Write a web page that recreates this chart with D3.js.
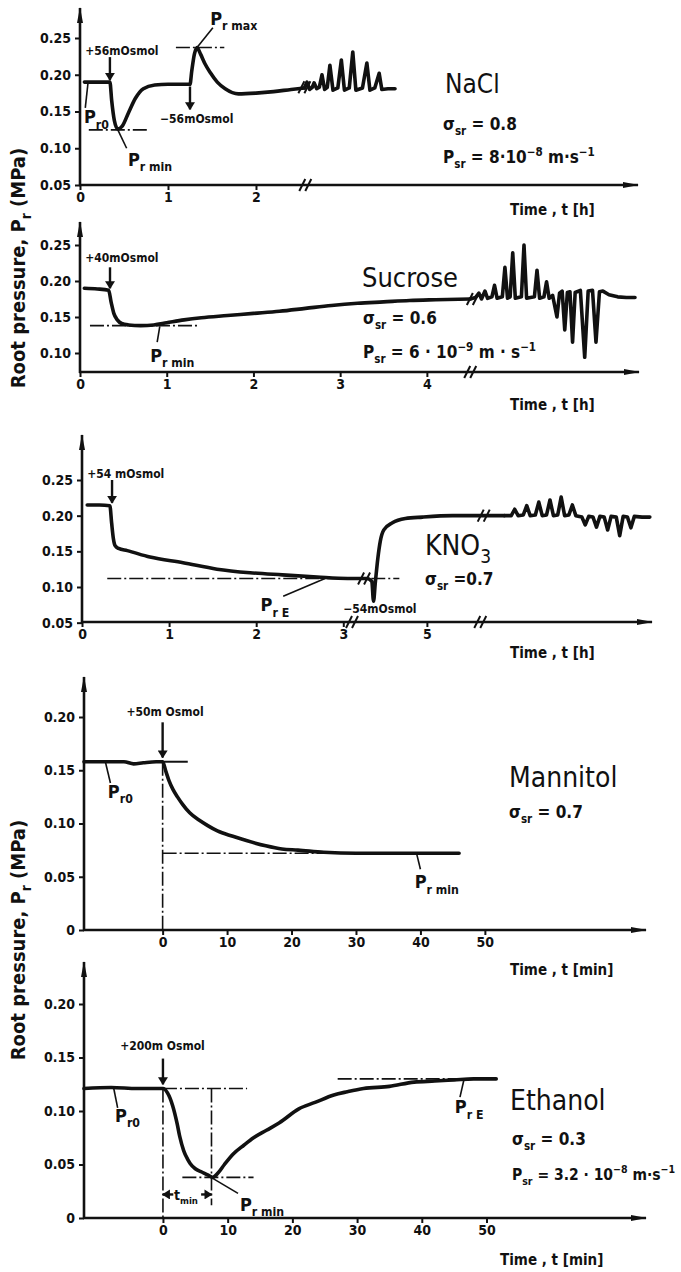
<!DOCTYPE html>
<html>
<head>
<meta charset="utf-8">
<script src="https://cdn.jsdelivr.net/npm/d3@7"></script>
<style>
body{margin:0;background:#fff}
svg text{font-family:"DejaVu Sans Condensed","DejaVu Sans",sans-serif;font-stretch:condensed;fill:#111}
.tick text{font-size:14px;font-weight:bold}
.tick line{stroke:#111;stroke-width:2}
.ax{stroke:#111;stroke-width:2.6;fill:none}
.curve{stroke:#111;stroke-width:3.6;fill:none;stroke-linejoin:round;stroke-linecap:round}
.note{stroke:#111;stroke-width:1.6;fill:none}
.dash{stroke:#111;stroke-width:1.6;fill:none;stroke-dasharray:14,3,2,3}
</style>
</head>
<body>
<svg id="chart" width="681" height="1272"></svg>
<script>
// ---- data ----
// NaCl (time in h)
var naclYTicks = [0.05, 0.10, 0.15, 0.20, 0.25];
var naclXTicks = [0, 1, 2];
var naclT = [0.05,0.2,0.34,0.36,0.39,0.43,0.48,0.55,0.63,0.72,0.85,1.0,1.15,1.25,1.27,1.30,1.33,1.37,1.42,1.48,1.56,1.65,1.8,2.0,2.2,2.4,2.55,
  2.58,2.61,2.64,2.66,2.69,2.72,2.75,2.78,2.81,2.84,2.875,2.93,2.97,3.005,3.06,3.10,3.135,3.21,3.26,3.295,3.35,3.40,3.43,3.5,3.58];
var naclP = [0.19,0.19,0.19,0.165,0.138,0.126,0.13,0.148,0.168,0.181,0.186,0.187,0.187,0.187,0.205,0.228,0.237,0.228,0.215,0.203,0.19,0.181,0.174,0.175,0.177,0.18,0.182,
  0.19,0.18,0.183,0.189,0.181,0.183,0.2,0.18,0.183,0.213,0.179,0.182,0.22,0.179,0.182,0.231,0.179,0.182,0.216,0.179,0.182,0.202,0.18,0.181,0.181];

// Sucrose (time in h)
var sucYTicks = [0.10, 0.15, 0.20, 0.25];
var sucXTicks = [0, 1, 2, 3, 4];
var sucT = [0.05,0.2,0.33,0.36,0.39,0.43,0.48,0.56,0.7,0.85,1.0,1.2,1.4,1.7,2.0,2.3,2.6,2.9,3.2,3.5,3.8,4.1,4.5,
  4.56,4.6,4.63,4.67,4.7,4.75,4.78,4.81,4.87,4.90,4.93,4.96,4.99,5.02,5.09,5.12,5.15,5.24,5.27,5.30,5.35,5.38,5.41,
  5.45,5.50,5.53,5.56,5.59,5.62,5.65,5.68,5.71,5.77,5.82,5.86,5.91,5.95,5.99,6.03,6.1,6.2,6.3,6.4];
var sucP = [0.19,0.189,0.187,0.17,0.155,0.146,0.141,0.139,0.138,0.139,0.142,0.146,0.149,0.152,0.155,0.158,0.162,0.166,0.169,0.171,0.173,0.174,0.175,
  0.177,0.183,0.175,0.186,0.176,0.178,0.194,0.176,0.178,0.219,0.176,0.178,0.239,0.176,0.178,0.25,0.176,0.178,0.215,0.176,0.178,0.199,0.176,
  0.18,0.15,0.183,0.186,0.132,0.184,0.185,0.115,0.184,0.187,0.094,0.186,0.187,0.115,0.185,0.186,0.181,0.178,0.177,0.177];

// KNO3 (time in h, axis broken between 3.1 and 4.13)
var kYTicks = [0.05, 0.10, 0.15, 0.20, 0.25];
var kXTicks = [0, 1, 2, 3, 5];
var kT = [0.06,0.2,0.32,0.34,0.36,0.38,0.42,0.52,0.78,1.16,1.55,1.93,2.3,2.7,3.05,
  4.2,4.3,4.36,4.38,4.40,4.43,4.46,4.5,4.6,4.75,4.95,5.3,5.6,5.9,
  5.98,6.02,6.06,6.12,6.16,6.2,6.26,6.3,6.34,6.39,6.43,6.47,6.52,6.56,6.6,6.65,6.69,6.73,
  6.8,6.84,6.88,6.93,6.97,7.01,7.06,7.1,7.14,7.2,7.24,7.28,7.33,7.37,7.41,7.5,7.59];
var kP = [0.215,0.215,0.214,0.19,0.168,0.158,0.154,0.151,0.142,0.134,0.125,0.12,0.117,0.114,0.112,
  0.112,0.112,0.108,0.08,0.105,0.14,0.165,0.18,0.19,0.196,0.198,0.2,0.2,0.2,
  0.2,0.209,0.2,0.201,0.214,0.2,0.201,0.219,0.2,0.201,0.222,0.2,0.201,0.226,0.2,0.201,0.215,0.2,
  0.198,0.187,0.199,0.198,0.184,0.199,0.198,0.18,0.199,0.198,0.172,0.199,0.198,0.183,0.199,0.198,0.198];

// Mannitol (time in min)
var minYTicks = [0, 0.05, 0.10, 0.15, 0.20];
var minXTicks = [0, 10, 20, 30, 40, 50];
var manT = [-12.2,-9,-6,-4.5,-3,-1,0,0.5,1,1.6,2.3,3.1,4.2,5.7,7,8.5,10.9,13,16,18.5,21,25,30,35,40,46];
var manP = [0.158,0.158,0.158,0.156,0.157,0.158,0.158,0.149,0.14,0.132,0.125,0.118,0.11,0.103,0.098,0.093,0.088,0.084,0.079,0.076,0.075,0.073,0.072,0.072,0.072,0.072];

// Ethanol (time in min)
var ethT = [-12.2,-8,-4,-1,0,0.7,1.5,2.2,2.6,3.2,3.8,4.2,5,6,7,7.7,8.5,9.5,10.9,12.5,14,16,18,21,23.5,26.4,28.5,31,35,38.8,42,45,48,51.5];
var ethP = [0.121,0.122,0.121,0.121,0.121,0.117,0.105,0.088,0.076,0.063,0.055,0.051,0.046,0.043,0.04,0.038,0.042,0.05,0.06,0.068,0.075,0.082,0.089,0.102,0.108,0.115,0.118,0.121,0.123,0.127,0.128,0.129,0.13,0.13];

var svg = d3.select("#chart");
var defs = svg.append("defs");
defs.append("marker").attr("id","axisHead").attr("viewBox","0 0 16 8").attr("refX",15).attr("refY",4)
  .attr("markerWidth",16).attr("markerHeight",8).attr("markerUnits","userSpaceOnUse").attr("orient","auto")
  .append("path").attr("d","M0,1 L16,4 L0,7 Z").attr("fill","#111");
defs.append("marker").attr("id","head").attr("viewBox","0 0 8 10").attr("refX",7).attr("refY",5)
  .attr("markerWidth",8).attr("markerHeight",10).attr("markerUnits","userSpaceOnUse").attr("orient","auto")
  .append("path").attr("d","M0,0 L8,5 L0,10 Z").attr("fill","#111");

function rich(g, px, py, parts, size, weight){
  var txt = g.append("text").attr("x",px).attr("y",py)
    .style("font-size",size+"px").style("font-weight",weight||"bold");
  var shift = 0;
  parts.forEach(function(pt){
    var s = pt[1]==="sub" ? size*0.3 : pt[1]==="sup" ? -size*0.42 : 0;
    var ts = txt.append("tspan").attr("dy", s - shift).text(pt[0]);
    if (pt[1]) ts.style("font-size",(size*0.68)+"px");
    shift = s;
  });
  return txt;
}

function brk(g, px, py){
  [-3, 3].forEach(function(d){
    g.append("line").attr("class","note").style("stroke-width",2)
      .attr("x1",px+d-3).attr("y1",py+6).attr("x2",px+d+3).attr("y2",py-6);
  });
}

var hFmt = function(d){return String(d);};
var pFmt = function(d){return d===0 ? "0" : d3.format(".2f")(d);};

var panels = [
  {t:naclT, p:naclP, oscFrom:2.55, xDomain:[0,6.33], xRange:[80,637], yDomain:[0.05,0.25], yRange:[185,38], base:185, top:8, xEnd:638,
   yTicks:naclYTicks, xTicks:naclXTicks, time:"Time , t [h]", timeAt:[510,215],
   titles:[[445,93,[["NaCl"]],26,"normal"],[443,130,[["σ"],["sr","sub"],[" = 0.8"]],17],[443,163,[["P"],["sr","sub"],[" = 8·10"],["−8","sup"],["  m·s"],["−1","sup"]],17]],
   notes:[
    {k:"txt",t:0.06,p:0.227,parts:[["+56mOsmol"]],size:12},
    {k:"arrow",t1:0.34,p1:0.224,t2:0.34,p2:0.193},
    {k:"txt",t:0.045,p:0.134,parts:[["P"],["r0","sub"]],size:18},
    {k:"line",t1:0.09,p1:0.188,t2:0.06,p2:0.155},
    {k:"dash",t1:0.1,p1:0.125,t2:0.78,p2:0.125},
    {k:"txt",t:0.545,p:0.076,parts:[["P"],["r min","sub"]],size:18},
    {k:"line",t1:0.43,p1:0.125,t2:0.53,p2:0.100},
    {k:"txt",t:0.91,p:0.135,parts:[["−56mOsmol"]],size:12},
    {k:"arrow",t1:1.25,p1:0.184,t2:1.25,p2:0.153},
    {k:"dash",t1:1.09,p1:0.237,t2:1.64,p2:0.237},
    {k:"txt",t:1.48,p:0.268,parts:[["P"],["r max","sub"]],size:18},
    {k:"line",t1:1.33,p1:0.237,t2:1.51,p2:0.264},
    {k:"brk",t:2.55,p:0.183},{k:"brk",t:2.56,axis:true}
   ]},
  {t:sucT, p:sucP, oscFrom:4.5, xDomain:[0,6.4], xRange:[80,635], yDomain:[0.10,0.25], yRange:[353,245], base:372, top:222, xEnd:639,
   yTicks:sucYTicks, xTicks:sucXTicks, time:"Time , t [h]", timeAt:[510,410],
   titles:[[362,287,[["Sucrose"]],27,"normal"],[363,324,[["σ"],["sr","sub"],[" = 0.6"]],17],[363,358,[["P"],["sr","sub"],[" = 6 · 10"],["−9","sup"],[" m · s"],["−1","sup"]],17]],
   notes:[
    {k:"txt",t:0.06,p:0.226,parts:[["+40mOsmol"]],size:12},
    {k:"arrow",t1:0.346,p1:0.219,t2:0.346,p2:0.19},
    {k:"dash",t1:0.115,p1:0.138,t2:1.36,p2:0.138},
    {k:"txt",t:0.81,p:0.0875,parts:[["P"],["r min","sub"]],size:18},
    {k:"line",t1:0.92,p1:0.137,t2:0.89,p2:0.115},
    {k:"brk",t:4.53,p:0.175},{k:"brk",t:4.5,axis:true}
   ]},
  {t:kT, p:kP, oscFrom:5.9, xDomain:[0,3.1,4.13,7.65], xRange:[82,352,352,655], yDomain:[0.10,0.25], yRange:[587,480], base:622, top:435, xEnd:652,
   yTicks:kYTicks, xTicks:kXTicks, time:"Time , t [h]", timeAt:[510,658],
   titles:[[425,555,[["KNO"],["3","sub"]],28,"normal"],[425,585,[["σ"],["sr","sub"],[" =0.7"]],17]],
   notes:[
    {k:"txt",t:0.06,p:0.253,parts:[["+54 mOsmol"]],size:12},
    {k:"arrow",t1:0.345,p1:0.25,t2:0.345,p2:0.218},
    {k:"dash",t1:0.29,p1:0.112,t2:4.68,p2:0.112},
    {k:"txt",t:2.05,p:0.066,parts:[["P"],["r E","sub"]],size:18},
    {k:"line",t1:2.79,p1:0.112,t2:2.31,p2:0.087},
    {k:"txt",t:3.0,p:0.064,parts:[["−54mOsmol"]],size:12},
    {k:"brk",t:4.27,p:0.112},{k:"brk",t:5.66,p:0.2},
    {k:"brk",t:3.1,axis:true},{k:"brk",t:5.62,axis:true}
   ]},
  {t:manT, p:manP, oscFrom:99, xDomain:[-12.2,75], xRange:[84,646], yDomain:[0,0.20], yRange:[930,717], base:930, top:677, xEnd:646,
   yTicks:minYTicks, xTicks:minXTicks, time:"Time ,  t [min]", timeAt:[510,975],
   titles:[[509,787,[["Mannitol"]],28,"normal"],[509,818,[["σ"],["sr","sub"],[" = 0.7"]],17]],
   notes:[
    {k:"txt",t:-5.6,p:0.201,parts:[["+50m Osmol"]],size:12},
    {k:"arrow",t1:0,p1:0.195,t2:0,p2:0.162},
    {k:"solid",t1:0,p1:0.158,t2:3.9,p2:0.158},
    {k:"txt",t:-8.5,p:0.124,parts:[["P"],["r0","sub"]],size:18},
    {k:"line",t1:-8.85,p1:0.157,t2:-8.1,p2:0.138},
    {k:"dash",t1:0,p1:0.158,t2:0,p2:0},
    {k:"dash",t1:0,p1:0.072,t2:25,p2:0.072},
    {k:"txt",t:39.1,p:0.039,parts:[["P"],["r min","sub"]],size:18},
    {k:"line",t1:39.4,p1:0.072,t2:40,p2:0.057}
   ]},
  {t:ethT, p:ethP, oscFrom:99, xDomain:[-12.2,74.8], xRange:[84,647], yDomain:[0,0.20], yRange:[1218,1004], base:1218, top:962, xEnd:646,
   yTicks:minYTicks, xTicks:minXTicks, time:"Time , t [min]", timeAt:[500,1265],
   titles:[[510,1110,[["Ethanol"]],28,"normal"],[512,1145,[["σ"],["sr","sub"],[" = 0.3"]],17],[512,1180,[["P"],["sr","sub"],[" = 3.2 · 10"],["−8","sup"],["  m·s"],["−1","sup"]],15.5]],
   notes:[
    {k:"txt",t:-6.6,p:0.157,parts:[["+200m Osmol"]],size:12},
    {k:"arrow",t1:0,p1:0.149,t2:0,p2:0.125},
    {k:"dash",t1:0,p1:0.121,t2:13,p2:0.121},
    {k:"dash",t1:0,p1:0.121,t2:0,p2:0},
    {k:"dash",t1:7.5,p1:0.121,t2:7.5,p2:0.012},
    {k:"dash",t1:3,p1:0.038,t2:14,p2:0.038},
    {k:"arrow",t1:1.6,p1:0.022,t2:0,p2:0.022},
    {k:"arrow",t1:5.9,p1:0.022,t2:7.5,p2:0.022},
    {k:"txt",t:1.7,p:0.017,parts:[["t"],["min","sub"]],size:14},
    {k:"txt",t:11.9,p:0.007,parts:[["P"],["r min","sub"]],size:18},
    {k:"line",t1:7.7,p1:0.037,t2:11.6,p2:0.023},
    {k:"txt",t:-7.4,p:0.09,parts:[["P"],["r0","sub"]],size:18},
    {k:"line",t1:-7.6,p1:0.121,t2:-7,p2:0.103},
    {k:"dash",t1:27,p1:0.13,t2:51.5,p2:0.13},
    {k:"txt",t:45.1,p:0.098,parts:[["P"],["r E","sub"]],size:18},
    {k:"line",t1:46.5,p1:0.129,t2:45.9,p2:0.113}
   ]}
];

panels.forEach(function(c){
  var g = svg.append("g");
  var x = d3.scaleLinear().domain(c.xDomain).range(c.xRange);
  var y = d3.scaleLinear().domain(c.yDomain).range(c.yRange);
  var left = c.xRange[0];

  g.append("line").attr("class","ax").attr("x1",left).attr("x2",left).attr("y1",c.base+1).attr("y2",c.top)
    .attr("marker-end","url(#axisHead)");
  g.append("line").attr("class","ax").attr("x1",left-1).attr("x2",c.xEnd).attr("y1",c.base).attr("y2",c.base)
    .attr("marker-end","url(#axisHead)");

  var ya = d3.axisLeft(y).tickValues(c.yTicks).tickSize(5).tickPadding(4).tickFormat(pFmt);
  g.append("g").attr("transform","translate("+left+",0)").call(ya)
    .call(function(s){s.select(".domain").remove();});
  var xa = d3.axisBottom(x).tickValues(c.xTicks).tickSize(5).tickPadding(2).tickFormat(hFmt);
  g.append("g").attr("transform","translate(0,"+c.base+")").call(xa)
    .call(function(s){s.select(".domain").remove();});

  var data = c.t.map(function(t,i){return {t:t, p:c.p[i]};});
  // smooth trace, then the sharp oscillation part after the break as straight strokes
  var smooth = d3.line().x(function(d){return x(d.t);}).y(function(d){return y(d.p);}).curve(d3.curveMonotoneX);
  var sharp = d3.line().x(function(d){return x(d.t);}).y(function(d){return y(d.p);});
  g.append("path").datum(data.filter(function(d){return d.t <= c.oscFrom;})).attr("class","curve").attr("d",smooth);
  var osc = data.filter(function(d){return d.t >= c.oscFrom;});
  if (osc.length) g.append("path").datum(osc).attr("class","curve").attr("d",sharp);

  c.notes.forEach(function(n){
    if (n.k==="txt") rich(g, x(n.t), y(n.p), n.parts, n.size);
    else if (n.k==="brk") brk(g, x(n.t), n.axis ? c.base : y(n.p));
    else {
      var l = g.append("line").attr("x1",x(n.t1)).attr("y1",y(n.p1)).attr("x2",x(n.t2)).attr("y2",y(n.p2))
        .attr("class", n.k==="dash" ? "dash" : "note");
      if (n.k==="arrow") l.style("stroke-width",2.4).attr("marker-end","url(#head)");
      if (n.k==="solid") l.style("stroke-width",2);
    }
  });

  c.titles.forEach(function(tt){ rich(g, tt[0], tt[1], tt[2], tt[3], tt[4]); });
  rich(g, c.timeAt[0], c.timeAt[1], [[c.time]], 15);
});

// shared y labels
[268, 940].forEach(function(cy){
  var t = rich(svg, 0, 0, [["Root  pressure, P"],["r","sub"],["  (MPa)"]], 20);
  t.attr("transform","translate(25,"+cy+") rotate(-90)").attr("text-anchor","middle");
});
</script>
</body>
</html>
